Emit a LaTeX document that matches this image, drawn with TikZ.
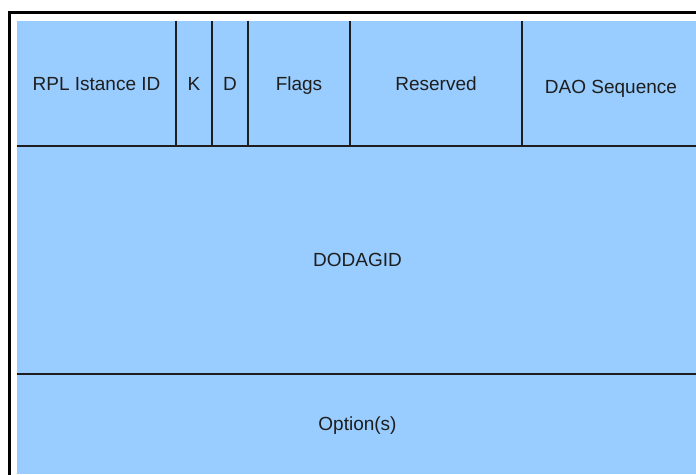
\documentclass[tikz,border=0pt]{standalone}
\usepackage{fontspec}
\setmainfont{Liberation Sans}
\usepackage{tikz}
\usetikzlibrary{positioning}
\definecolor{cellblue}{RGB}{153,204,255}
\definecolor{inkgray}{RGB}{30,30,30}

\begin{document}
\begin{tikzpicture}[x=1pt,y=-1pt]
\tikzstyle{cell}=[fill=cellblue, draw=none, inner sep=0pt, minimum height=125pt,
font=\fontsize{19}{23}\selectfont, text=inkgray, text height=13.6pt, text depth=0pt]
\tikzstyle{sep}=[line width=2pt, draw=inkgray]

\clip (0,0) rectangle (696,474);
\useasboundingbox (0,0) rectangle (696,474);

% outer frame
\draw[line width=3pt] (9,12) rectangle (720,500);

% header row
\node[cell, minimum width=159pt] (rpl) at (96.5,83.5) {RPL Istance ID};
\node[cell, minimum width=36pt] (kflag) at (194,83.5) {K};
\node[cell, minimum width=36pt] (dflag) at (230,83.5) {D};
\node[cell, minimum width=102pt] (flags) at (299,83.5) {Flags};
\node[cell, minimum width=172pt] (resv) at (436,83.5) {Reserved};
\node[cell, minimum width=176pt] (daoseq) at (611,83.5) {\raisebox{-3.5pt}[\height][\depth]{DAO Sequence}};

% body rows
\node[cell, minimum width=681pt, minimum height=228pt] (dodagid) at (357.5,260) {DODAGID};
\node[cell, minimum width=681pt, minimum height=100pt] (opts) at (357.5,424) {Option(s)};

% separators
\draw[sep] (rpl.north east) -- (rpl.south east);
\draw[sep] (kflag.north east) -- (kflag.south east);
\draw[sep] (dflag.north east) -- (dflag.south east);
\draw[sep] (flags.north east) -- (flags.south east);
\draw[sep] (resv.north east) -- (resv.south east);
\draw[sep] (dodagid.north west) -- (dodagid.north east);
\draw[sep] (opts.north west) -- (opts.north east);

\end{tikzpicture}
\end{document}
